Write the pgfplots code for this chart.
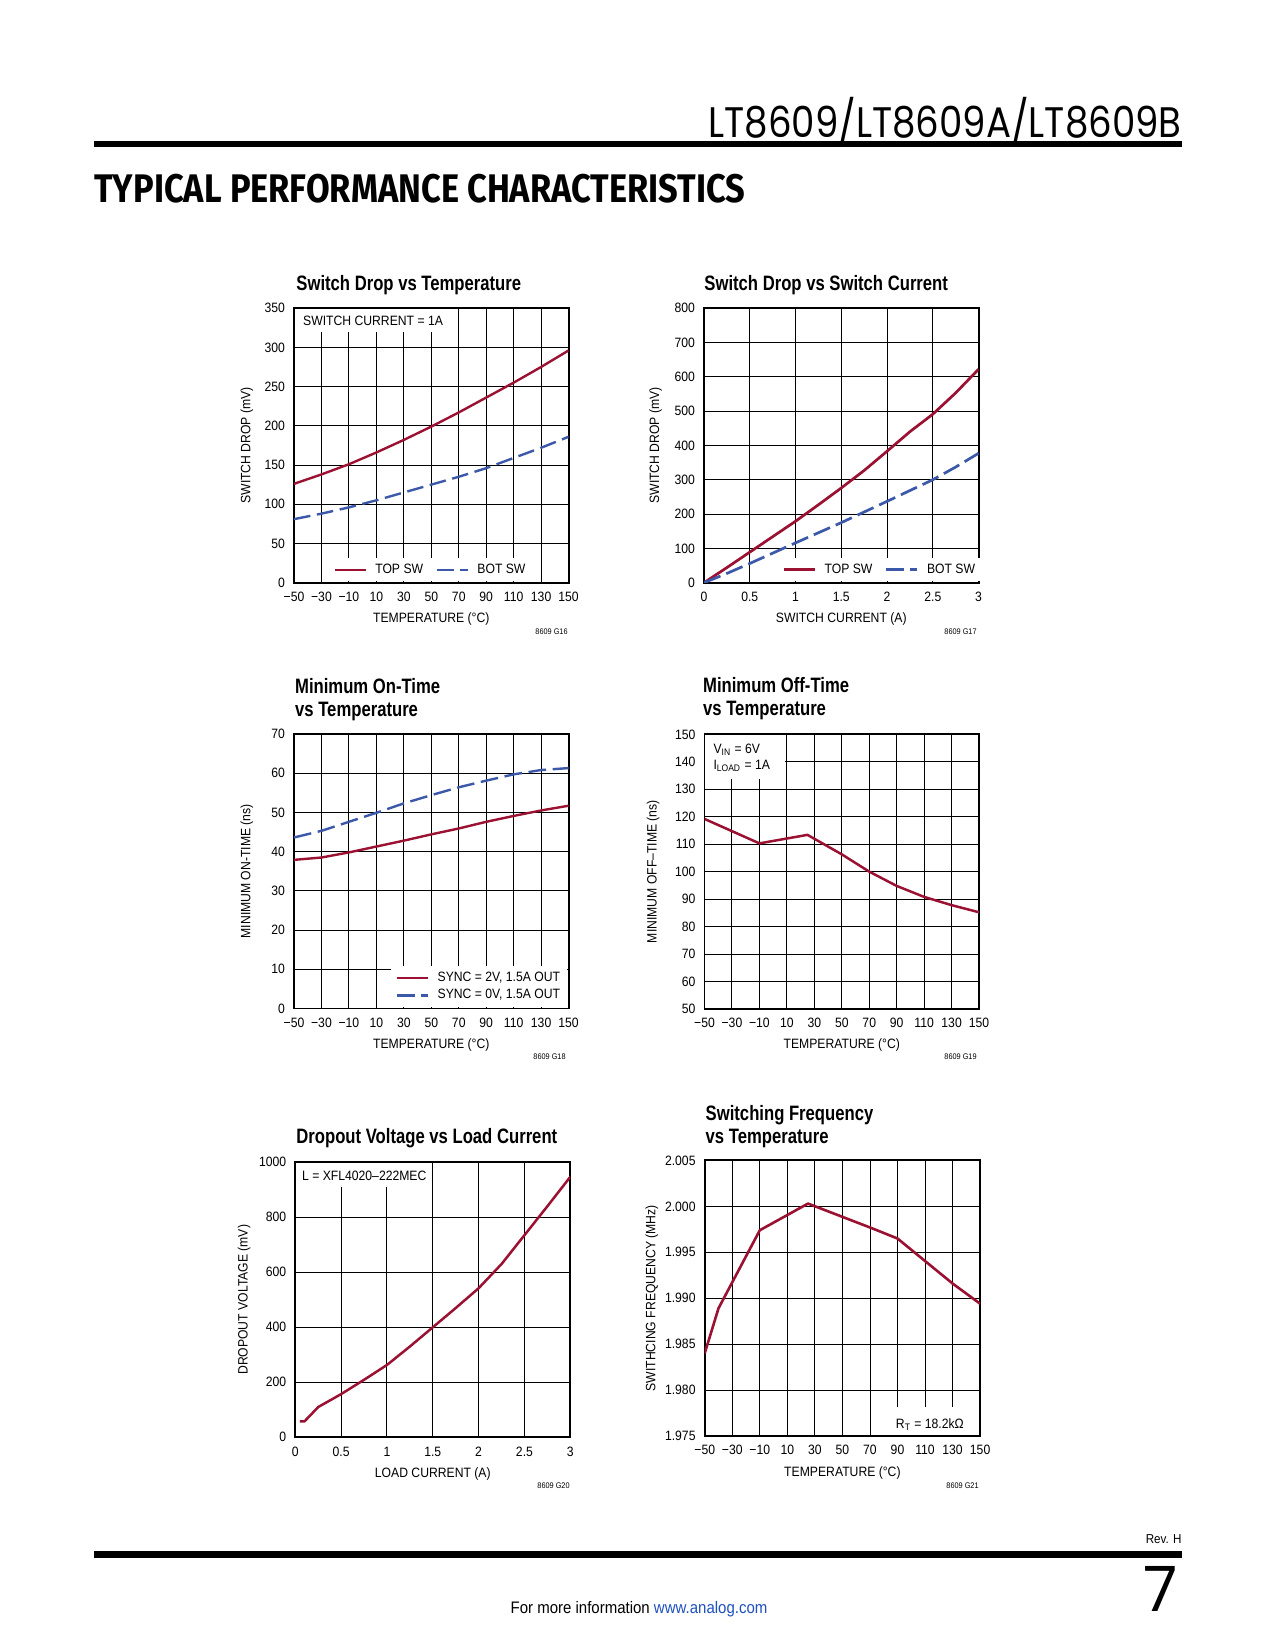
\documentclass[border=0pt]{standalone}
\usepackage{fontspec}
\setmainfont{Liberation Sans}[FakeStretch=0.9]
\newfontfamily\ttl{Liberation Sans}[FakeStretch=0.8]
\newfontfamily\hdr{Poppins}
\newfontfamily\hvy{Fira Sans}
\usepackage{graphicx}
\usepackage{pgfplots}
\pgfplotsset{compat=1.18}

\definecolor{ltred}{RGB}{155,17,50}
\definecolor{ltblue}{RGB}{60,88,168}
\definecolor{link}{RGB}{30,80,190}

\newcommand\tk{\fontsize{6.5}{7.8}\selectfont}
\newcommand\ttlfont{\ttl\bfseries\fontsize{10}{12}\selectfont}
\newcommand\code{\fontsize{3.9}{4.5}\selectfont}

\pgfplotsset{
  ltaxis/.style={
    scale only axis, width=131.8pt, height=131.8pt,
    anchor=south west,
    grid=major, grid style={black, line width=0.45pt},
    axis line style={black, line width=0.9pt},
    major tick length=0pt, tick style={draw=none},
    ticklabel style={font=\tk},
    /pgf/number format/assume math mode=true,
    /pgf/number format/1000 sep={},
    xticklabel style={anchor=base, inner sep=0pt, yshift=-9pt},
    yticklabel style={anchor=east, inner sep=0pt, xshift=-4.2pt},
    label style={font=\tk},
    xlabel style={at={(axis description cs:0.5,-0.145)}, anchor=base},
    ylabel style={at={(axis description cs:-0.172,0.5)}, anchor=center},
    legend style={draw=none, fill=white, font=\tk, inner xsep=1.5pt, inner ysep=1.5pt,
      nodes={inner sep=1pt},
      /tikz/every odd column/.append style={column sep=3pt}},
    legend cell align=left,
    legend image code/.code={\draw[##1] (0pt,0pt) -- (14.9pt,0pt);},
  },
  tempx/.style={xmin=-50, xmax=150, xtick={-50,-30,...,150},
    xticklabels={−50,−30,−10,10,30,50,70,90,110,130,150}},
  curx/.style={xmin=0, xmax=3, xtick={0,0.5,1,1.5,2,2.5,3},
    xticklabels={0,0.5,1,1.5,2,2.5,3}},
}

\begin{document}
\begin{tikzpicture}
\fill[white] (0,0) rectangle (612pt,792pt);

% page furniture, in reference pixels (origin top left)
\begin{scope}[x=0.48pt, y=-0.48pt, yshift=792pt]
  \node[anchor=base east, inner sep=0pt] at (1182,138)
    {\scalebox{0.87}[1]{\hdr\fontsize{20.5}{22}\selectfont LT8609/LT8609A/LT8609B}};
  \fill[black] (94,141) rectangle (1182,147.5);
  \node[anchor=south west, inner sep=0pt] at (94,203.4)
    {\resizebox{312.5pt}{13.6pt}{\hvy\bfseries TYPICAL PERFORMANCE CHARACTERISTICS}};

  \node[anchor=base west, inner sep=0pt] at (296,291) {\ttlfont Switch Drop vs Temperature};
  \node[anchor=base west, inner sep=0pt] at (704,291) {\ttlfont Switch Drop vs Switch Current};
  \node[anchor=base west, inner sep=0pt] at (294.7,693.3) {\ttlfont Minimum On-Time};
  \node[anchor=base west, inner sep=0pt] at (294.7,716.7) {\ttlfont vs Temperature};
  \node[anchor=base west, inner sep=0pt] at (702.7,692.7) {\ttlfont Minimum Off-Time};
  \node[anchor=base west, inner sep=0pt] at (702.7,715.3) {\ttlfont vs Temperature};
  \node[anchor=base west, inner sep=0pt] at (296,1143.3) {\ttlfont Dropout Voltage vs Load Current};
  \node[anchor=base west, inner sep=0pt] at (705.3,1121) {\ttlfont Switching Frequency};
  \node[anchor=base west, inner sep=0pt] at (705.3,1143.3) {\ttlfont vs Temperature};

  \node[anchor=base east, inner sep=0pt] at (568,634.3) {\code 8609 G16};
  \node[anchor=base east, inner sep=0pt] at (977,634.3) {\code 8609 G17};
  \node[anchor=base east, inner sep=0pt] at (566,1060) {\code 8609 G18};
  \node[anchor=base east, inner sep=0pt] at (977,1060) {\code 8609 G19};
  \node[anchor=base east, inner sep=0pt] at (570,1488.3) {\code 8609 G20};
  \node[anchor=base east, inner sep=0pt] at (979,1488.3) {\code 8609 G21};

  \node[anchor=base east, inner sep=0pt] at (1182,1544) {\fontsize{6.2}{7}\selectfont Rev. H};
  \fill[black] (94,1551) rectangle (1182,1558.5);
  \node[anchor=base east, inner sep=0pt] at (1178,1612) {\hdr\fontsize{30}{30}\selectfont 7};
  \node[anchor=base, inner sep=0pt] at (639,1614)
    {\fontsize{8}{10}\selectfont For more information \textcolor{link}{www.analog.com}};
\end{scope}

% G16 switch drop vs temperature
\begin{axis}[ltaxis, tempx, at={(141.12pt,512.3pt)},
  ymin=0, ymax=350, ytick={0,50,...,350},
  xlabel={TEMPERATURE (°C)}, ylabel={SWITCH DROP (mV)},
  legend columns=2,
  legend style={at={(axis description cs:0.131,0)}, anchor=south west, yshift=0.45pt,
    /tikz/every even column/.append style={column sep=5pt}}]
\fill[white] ([xshift=0.45pt,yshift=-0.45pt]rel axis cs:0,1) rectangle (rel axis cs:0.565,0.913);
\node[anchor=base west, inner sep=0pt, font=\tk] at (rel axis cs:0.0317,0.9355) {SWITCH CURRENT = 1A};
\addplot[ltred, line width=1.15pt, line join=round] coordinates {
  (-50,126)(-30,138)(-10,151)(10,166)(30,182)(50,199)(70,217)(90,236)(110,255)(130,275)(150,296)};
\addlegendentry{TOP SW}
\addplot[ltblue, line width=1.15pt, dash pattern=on 8pt off 3.2pt] coordinates {
  (-50,81)(-30,88)(-10,96)(10,105)(30,115)(50,125)(70,135)(90,146)(110,159)(130,172)(150,186)};
\addlegendentry{BOT SW}
\end{axis}

% G17 switch drop vs switch current
\begin{axis}[ltaxis, curx, at={(337.92pt,512.3pt)},
  ymin=0, ymax=800, ytick={0,100,...,800},
  xlabel={SWITCH CURRENT (A)}, ylabel={SWITCH DROP (mV)},
  ylabel style={at={(axis description cs:-0.176,0.5)}},
  legend columns=2,
  legend style={at={(axis description cs:0.273,0)}, anchor=south west, yshift=0.45pt,
    /tikz/every even column/.append style={column sep=5pt}}]
\addplot[ltred, line width=1.3pt, line join=round] coordinates {
  (0,0)(0.25,44)(0.5,89)(0.75,134)(1,179)(1.25,227)(1.5,276)(1.75,327)(2,383)(2.25,440)(2.5,491)(2.75,553)(3,622)};
\addlegendentry{TOP SW}
\addplot[ltblue, line width=1.3pt, dash pattern=on 8.5pt off 3pt] coordinates {
  (0,0)(0.25,27)(0.5,56)(0.75,86)(1,116)(1.5,175)(2,237)(2.5,300)(2.75,337)(3,377)};
\addlegendentry{BOT SW}
\end{axis}

% G18 minimum on-time
\begin{axis}[ltaxis, tempx, at={(141.12pt,307.9pt)},
  ymin=0, ymax=70, ytick={0,10,...,70},
  xlabel={TEMPERATURE (°C)}, ylabel={MINIMUM ON-TIME (ns)},
  legend style={at={(rel axis cs:1,0)}, anchor=south east, xshift=-0.45pt, yshift=0.45pt,
    inner xsep=2.4pt, inner ysep=1.6pt, row sep=0.4pt}]
\addplot[ltred, line width=1.15pt, line join=round] coordinates {
  (-50,37.9)(-30,38.5)(-10,39.8)(10,41.3)(30,42.8)(50,44.4)(70,45.9)(90,47.6)(110,49.1)(130,50.5)(150,51.7)};
\addlegendentry{SYNC = 2V, 1.5A OUT}
\addplot[ltblue, line width=1.15pt, dash pattern=on 8.5pt off 3.2pt] coordinates {
  (-50,43.6)(-30,45.3)(-10,47.6)(10,49.9)(30,52.3)(50,54.4)(70,56.4)(90,58.1)(110,59.7)(130,60.8)(150,61.3)};
\addlegendentry{SYNC = 0V, 1.5A OUT}
\end{axis}

% G19 minimum off-time
\begin{axis}[ltaxis, tempx, at={(338.16pt,307.7pt)},
  ymin=50, ymax=150, ytick={50,60,...,150},
  xlabel={TEMPERATURE (°C)}, ylabel={MINIMUM OFF–TIME (ns)},
  ylabel style={at={(axis description cs:-0.187,0.5)}}]
\fill[white] ([xshift=0.45pt,yshift=-0.45pt]rel axis cs:0,1) rectangle (rel axis cs:0.2925,0.836);
\node[anchor=base west, inner sep=0pt, font=\tk] at (rel axis cs:0.0313,0.931) {V\textsubscript{IN} = 6V};
\node[anchor=base west, inner sep=0pt, font=\tk] at (rel axis cs:0.0313,0.8726) {I\textsubscript{LOAD} = 1A};
\addplot[ltred, line width=1.2pt, line join=round] coordinates {
  (-50,119.2)(-10,110.3)(25,113.4)(50,106.3)(70,100)(90,94.8)(110,90.8)(130,87.8)(150,85.2)};
\end{axis}

% G20 dropout voltage
\begin{axis}[ltaxis, curx, at={(141.74pt,102.1pt)}, width=132pt, height=132pt,
  ymin=0, ymax=1000, ytick={0,200,...,1000},
  xlabel={LOAD CURRENT (A)}, ylabel={DROPOUT VOLTAGE (mV)},
  ylabel style={at={(axis description cs:-0.1865,0.5)}}]
\fill[white] ([xshift=0.45pt,yshift=-0.45pt]rel axis cs:0,1) rectangle (rel axis cs:0.493,0.911);
\node[anchor=base west, inner sep=0pt, font=\tk] at (rel axis cs:0.0233,0.933) {L = XFL4020–222MEC};
\addplot[ltred, line width=1.2pt, line join=round] coordinates {
  (0.05,58)(0.1,58)(0.15,75)(0.25,110)(0.5,157)(0.75,209)(1,263)(1.25,330)(1.5,400)(1.75,470)(2,542)(2.25,630)(2.5,735)(2.75,840)(3,947)};
\end{axis}

% G21 switching frequency
\begin{axis}[ltaxis, tempx, at={(338.26pt,102.7pt)}, width=132.2pt, height=132.3pt,
  ymin=1.975, ymax=2.005,
  ytick={1.975,1.980,1.985,1.990,1.995,2.000,2.005},
  yticklabels={1.975,1.980,1.985,1.990,1.995,2.000,2.005},
  xlabel={TEMPERATURE (°C)}, ylabel={SWITHCING FREQUENCY (MHz)},
  ylabel style={at={(axis description cs:-0.192,0.5)}}]
\fill[white] (rel axis cs:0.669,0.105) rectangle ([xshift=-0.45pt,yshift=0.45pt]rel axis cs:1,0);
\node[anchor=base west, inner sep=0pt, font=\tk] at (rel axis cs:0.693,0.029) {R\textsubscript{T} = 18.2kΩ};
\addplot[ltred, line width=1.25pt, line join=round] coordinates {
  (-50,1.9840)(-40,1.9889)(-10,1.9974)(25,2.0003)(70,1.9977)(90,1.9965)(130,1.9916)(150,1.9894)};
\end{axis}
\end{tikzpicture}
\end{document}
